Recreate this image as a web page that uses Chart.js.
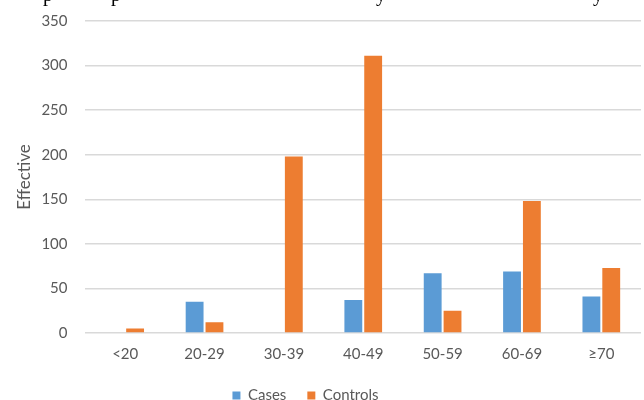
<!DOCTYPE html>
<html>
<head>
<meta charset="utf-8">
<script src="https://cdn.jsdelivr.net/npm/chart.js@4/dist/chart.umd.min.js"></script>
<style>
    html, body { margin: 0; padding: 0; background: #fff; overflow: hidden; }
    #wrap { width: 644px; height: 400px; position: relative; overflow: hidden; }
    /* remains of the caption line cut off above the figure */
    .cut { position: absolute; top: -16px; font: 20px/20px "Liberation Serif", serif; color: #000; }
</style>
</head>
<body>
<div id="wrap">
    <canvas id="myChart"></canvas>
    <span class="cut" style="left:43px">p</span>
    <span class="cut" style="left:111px">p</span>
    <span class="cut" style="left:376px">y</span>
    <span class="cut" style="left:593px">y</span>
</div>
<script>
    // values
    const ageGroups = ['<20', '20-29', '30-39', '40-49', '50-59', '60-69', '\u226570'];
    const cases = [0, 35, 0, 37, 67, 69, 41];
    const controls = [5, 12, 198, 311, 25, 148, 73];
    const yTicks = [0, 50, 100, 150, 200, 250, 300, 350];

    const textColor = '#595959';
    const font = 'Lato, "Open Sans", sans-serif';

    // the legend in the source sits a bit left of the canvas centre
    const legendShift = {
        id: 'legendShift',
        afterLayout: function(chart){
            if(chart.legend){
                chart.legend.left -= 22;
                chart.legend.right -= 22;
            }
        }
    };

    let ctx = document.getElementById('myChart');
    let myBarChart = new Chart(ctx, {
        type: 'bar',
        data: {
            labels: ageGroups,
            datasets: [{
                label: 'Cases',
                data: cases,
                backgroundColor: '#5B9BD5',
                borderWidth: 0,
                categoryPercentage: 0.5,
                barPercentage: 0.9
            }, {
                label: 'Controls',
                data: controls,
                backgroundColor: '#ED7D31',
                borderWidth: 0,
                categoryPercentage: 0.5,
                barPercentage: 0.9
            }]
        },
        options: {
            responsive: true,
            maintainAspectRatio: false,
            animation: false,
            layout: {
                padding: {left: 14, right: 3, top: 21, bottom: -13}
            },
            scales: {
                x: {
                    grid: {display: false},
                    border: {display: false},
                    ticks: {
                        color: textColor,
                        padding: 4,
                        font: {family: font, size: 15}
                    }
                },
                y: {
                    min: 0,
                    max: 350,
                    afterBuildTicks: function(axis){
                        axis.ticks = yTicks.map(function(v){ return {value: v}; });
                    },
                    afterFit: function(scale){
                        scale.paddingTop = 0;
                    },
                    grid: {color: '#d9d9d9', lineWidth: 1.5, drawTicks: false},
                    border: {display: false},
                    ticks: {
                        color: textColor,
                        padding: 18,
                        font: {family: font, size: 15}
                    },
                    title: {
                        display: true,
                        text: 'Effective',
                        color: textColor,
                        padding: {top: 0, bottom: -11},
                        font: {family: font, size: 17}
                    }
                }
            },
            plugins: {
                tooltip: {enabled: false},
                legend: {
                    display: true,
                    position: 'bottom',
                    labels: {
                        color: textColor,
                        boxWidth: 8,
                        boxHeight: 8,
                        padding: 21,
                        font: {family: font, size: 15}
                    }
                }
            }
        },
        plugins: [legendShift]
    });
</script>
</body>
</html>
